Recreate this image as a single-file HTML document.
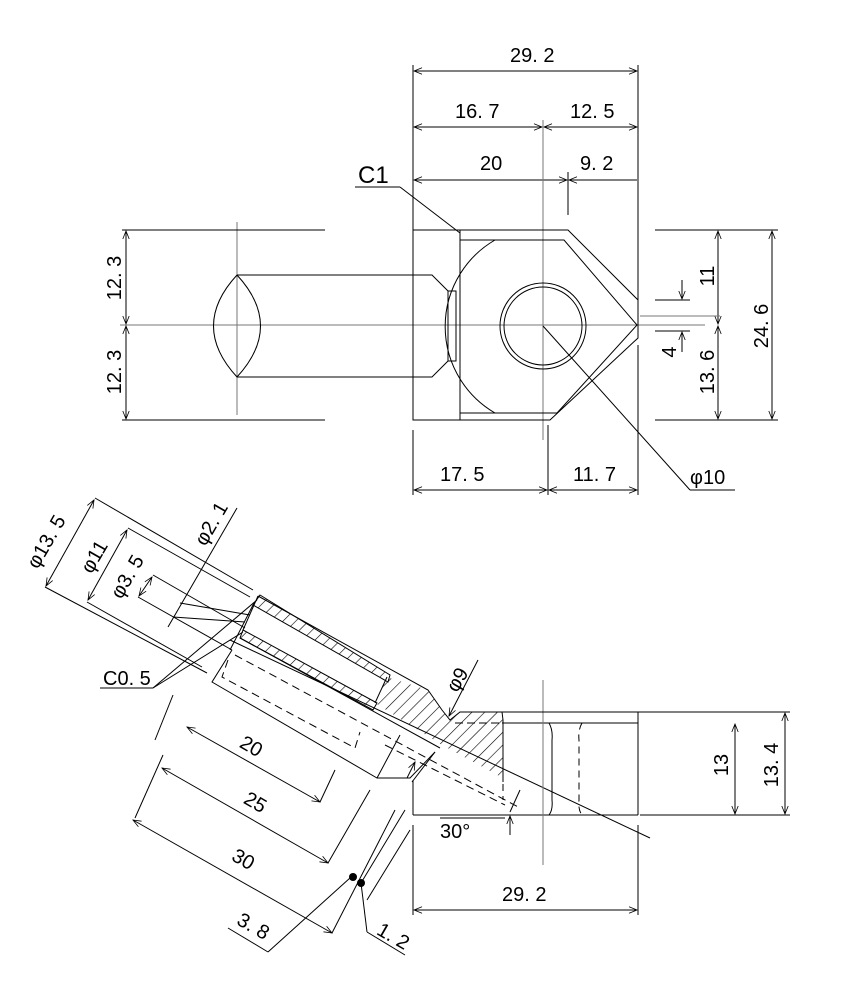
<!DOCTYPE html>
<html><head><meta charset="utf-8"><style>
html,body{margin:0;padding:0;background:#fff;}
svg{display:block;}
text{font-family:"Liberation Sans","Noto Sans CJK JP",sans-serif;font-size:20px;fill:#000;}
</style></head><body>
<svg width="865" height="1000" viewBox="0 0 865 1000" xmlns="http://www.w3.org/2000/svg">
<defs>
<marker id="a" viewBox="0 0 10 10" refX="10" refY="5" markerWidth="10" markerHeight="8" orient="auto-start-reverse" markerUnits="userSpaceOnUse"><path d="M0,1 L10,5 L0,9" fill="none" stroke="#000" stroke-width="1"/></marker>
<pattern id="h" width="9" height="9" patternUnits="userSpaceOnUse" patternTransform="rotate(45)"><line x1="0" y1="0" x2="0" y2="9" stroke="#000" stroke-width="1.2"/></pattern>
</defs>
<g stroke="#000" stroke-width="1" fill="none">
<line x1="413" y1="65" x2="413" y2="230"/>
<line x1="638" y1="65" x2="638" y2="300"/>
<line x1="568" y1="172" x2="568" y2="215"/>
<line x1="414" y1="71" x2="637" y2="71" marker-start="url(#a)" marker-end="url(#a)"/>
<line x1="414" y1="127" x2="542" y2="127" marker-start="url(#a)" marker-end="url(#a)"/>
<line x1="544" y1="127" x2="637" y2="127" marker-start="url(#a)" marker-end="url(#a)"/>
<line x1="414" y1="180" x2="567" y2="180" marker-start="url(#a)" marker-end="url(#a)"/>
<line x1="569" y1="180" x2="637" y2="180" marker-start="url(#a)"/>
<line x1="355" y1="187" x2="400" y2="187"/>
<line x1="400" y1="187" x2="460" y2="233"/>
<line x1="543" y1="120" x2="543" y2="440" stroke="#777"/>
<line x1="120" y1="325" x2="705" y2="325" stroke="#777"/>
<line x1="237" y1="222" x2="237" y2="415" stroke="#777"/>
<path d="M413,230 H568 L638,300 V338 L550,420 H413 Z"/>
<line x1="460" y1="230" x2="460" y2="420"/>
<path d="M460,240 H564 L637,325 L557,413 H460"/>
<path d="M495,240 A100,100 0 0 0 495,413"/>
<circle cx="543" cy="326" r="43"/>
<circle cx="543" cy="326" r="39"/>
<path d="M237,275 H432 L448,291 V361 L432,377 H237"/>
<rect x="448" y="291" width="8" height="70"/>
<path d="M237,275 Q190,326 237,377 Q284,326 237,275"/>
<line x1="122" y1="230" x2="325" y2="230"/>
<line x1="122" y1="420" x2="325" y2="420"/>
<line x1="126" y1="231" x2="126" y2="324" marker-start="url(#a)" marker-end="url(#a)"/>
<line x1="126" y1="326" x2="126" y2="419" marker-start="url(#a)" marker-end="url(#a)"/>
<line x1="655" y1="230" x2="778" y2="230"/>
<line x1="655" y1="420" x2="778" y2="420"/>
<line x1="718" y1="231" x2="718" y2="324" marker-start="url(#a)" marker-end="url(#a)"/>
<line x1="718" y1="326" x2="718" y2="419" marker-start="url(#a)" marker-end="url(#a)"/>
<line x1="772" y1="231" x2="772" y2="419" marker-start="url(#a)" marker-end="url(#a)"/>
<line x1="655" y1="300" x2="690" y2="300"/>
<line x1="640" y1="316" x2="720" y2="316" stroke="#777"/>
<line x1="655" y1="331" x2="690" y2="331"/>
<line x1="682" y1="280" x2="682" y2="299" marker-end="url(#a)"/>
<line x1="682" y1="352" x2="682" y2="332" marker-end="url(#a)"/>
<line x1="413" y1="430" x2="413" y2="495"/>
<line x1="548" y1="425" x2="548" y2="495"/>
<line x1="638" y1="345" x2="638" y2="495"/>
<line x1="414" y1="490" x2="547" y2="490" marker-start="url(#a)" marker-end="url(#a)"/>
<line x1="549" y1="490" x2="637" y2="490" marker-start="url(#a)" marker-end="url(#a)"/>
<line x1="543" y1="326" x2="690" y2="490"/>
<line x1="690" y1="490" x2="735" y2="490"/>

<!-- BOTTOM VIEW -->
<path d="M387,677 L428,690 L442,710 L450,720 L460,712 H502 L503,720 V778 L442,745 L375,703 Z" fill="url(#h)" stroke="none"/>
<path d="M258,596 L428,690 L442,710 L450,720 L460,712 H502 L503,720 V782"/>
<line x1="387" y1="677" x2="375" y2="703"/>
<path d="M260,595 L390,675 L388,682 L253,605 Z" fill="url(#h)"/>
<path d="M243,630 L377,703 L373,710 L240,638 Z" fill="url(#h)"/>
<line x1="258" y1="596" x2="243" y2="630"/>
<line x1="253" y1="605" x2="230" y2="650"/>
<path d="M232,650 L212,682 L377,778 H410 L435,752"/>
<line x1="240" y1="638" x2="440" y2="748"/>
<line x1="377" y1="778" x2="400" y2="735"/>
<line x1="412" y1="782" x2="435" y2="752"/>
<path d="M228,660 L222,677 L355,748 L360,732" stroke-dasharray="8,5"/>
<line x1="235" y1="655" x2="520" y2="808" stroke-dasharray="8,5"/>
<line x1="385" y1="745" x2="505" y2="805" stroke-dasharray="8,5"/>
<line x1="455" y1="723" x2="503" y2="723" stroke-dasharray="8,4"/>
<line x1="230" y1="640" x2="650" y2="838"/>
<line x1="502" y1="712" x2="638" y2="712"/>
<line x1="502" y1="723" x2="638" y2="723"/>
<line x1="638" y1="712" x2="638" y2="815"/>
<line x1="413" y1="815" x2="638" y2="815"/>
<line x1="413" y1="780" x2="413" y2="815"/>
<path d="M549,723 Q553,730 552,740 V800 Q553,810 549,815"/>
<path d="M582,723 Q578,730 579,740 V800 Q578,810 582,815" stroke-dasharray="7,5"/>
<line x1="503" y1="760" x2="503" y2="800" stroke-dasharray="7,5"/>
<line x1="543" y1="680" x2="543" y2="865" stroke="#777"/>
<line x1="520" y1="712" x2="790" y2="712"/>
<line x1="640" y1="815" x2="790" y2="815"/>
<line x1="735" y1="724" x2="735" y2="814" marker-start="url(#a)" marker-end="url(#a)"/>
<line x1="785" y1="713" x2="785" y2="814" marker-start="url(#a)" marker-end="url(#a)"/>
<line x1="413" y1="825" x2="413" y2="915"/>
<line x1="638" y1="825" x2="638" y2="915"/>
<line x1="414" y1="910" x2="637" y2="910" marker-start="url(#a)" marker-end="url(#a)"/>
<line x1="440" y1="818" x2="505" y2="818"/>
<line x1="510" y1="812" x2="520" y2="790"/>
<line x1="510" y1="835" x2="510" y2="816" marker-end="url(#a)"/>
<line x1="478" y1="660" x2="449" y2="716" marker-end="url(#a)"/>
<line x1="95" y1="498" x2="253" y2="590"/>
<line x1="45" y1="587" x2="207" y2="673"/>
<line x1="94" y1="500" x2="46" y2="586" marker-start="url(#a)" marker-end="url(#a)"/>
<line x1="128" y1="528" x2="250" y2="597"/>
<line x1="87" y1="602" x2="202" y2="667"/>
<line x1="127" y1="530" x2="88" y2="600" marker-start="url(#a)" marker-end="url(#a)"/>
<line x1="153" y1="575" x2="245" y2="628"/>
<line x1="138" y1="597" x2="232" y2="650"/>
<line x1="152" y1="577" x2="139" y2="596" marker-start="url(#a)" marker-end="url(#a)"/>
<line x1="237" y1="508" x2="168" y2="627"/>
<line x1="180" y1="603" x2="250" y2="615"/>
<line x1="173" y1="617" x2="245" y2="622"/>
<line x1="100" y1="688" x2="153" y2="688"/>
<line x1="153" y1="688" x2="257" y2="600"/>
<line x1="153" y1="688" x2="243" y2="632"/>
<line x1="187" y1="727" x2="320" y2="802" marker-start="url(#a)" marker-end="url(#a)"/>
<line x1="173" y1="695" x2="155" y2="740"/>
<line x1="335" y1="770" x2="320" y2="802"/>
<line x1="162" y1="768" x2="328" y2="863" marker-start="url(#a)" marker-end="url(#a)"/>
<line x1="163" y1="755" x2="135" y2="818"/>
<line x1="370" y1="790" x2="328" y2="863"/>
<line x1="133" y1="820" x2="332" y2="933" marker-start="url(#a)" marker-end="url(#a)"/>
<line x1="395" y1="810" x2="332" y2="933"/>
<line x1="405" y1="810" x2="361" y2="883"/>
<line x1="410" y1="830" x2="367" y2="900"/>
<line x1="228" y1="928" x2="268" y2="952"/>
<line x1="268" y1="952" x2="350" y2="878"/>
<line x1="361" y1="883" x2="367" y2="932"/>
<line x1="367" y1="932" x2="405" y2="955"/>
<line x1="407" y1="778" x2="415" y2="762" marker-end="url(#a)"/>
</g>
<circle cx="353" cy="877" r="4"/>
<circle cx="361" cy="883" r="4"/>

<text x="510" y="62">29. 2</text>
<text x="455" y="118">16. 7</text>
<text x="570" y="118">12. 5</text>
<text x="480" y="170">20</text>
<text x="580" y="170">9. 2</text>
<text x="358" y="183" style="font-size:24px">C1</text>
<text x="440" y="481">17. 5</text>
<text x="573" y="481">11. 7</text>
<text x="690" y="484">φ10</text>
<text transform="translate(121,278) rotate(-90)" text-anchor="middle">12. 3</text>
<text transform="translate(121,372) rotate(-90)" text-anchor="middle">12. 3</text>
<text transform="translate(714,276) rotate(-90)" text-anchor="middle">11</text>
<text transform="translate(714,372) rotate(-90)" text-anchor="middle">13. 6</text>
<text transform="translate(768,326) rotate(-90)" text-anchor="middle">24. 6</text>
<text transform="translate(676,352) rotate(-90)" text-anchor="middle">4</text>
<text transform="translate(52,545) rotate(-60)" text-anchor="middle">φ13. 5</text>
<text transform="translate(100,560) rotate(-60)" text-anchor="middle">φ11</text>
<text transform="translate(133,580) rotate(-60)" text-anchor="middle">φ3. 5</text>
<text transform="translate(217,527) rotate(-60)" text-anchor="middle">φ2. 1</text>
<text transform="translate(463,683) rotate(-60)" text-anchor="middle">φ9</text>
<text x="103" y="685">C0. 5</text>
<text transform="translate(248,752) rotate(30)" text-anchor="middle">20</text>
<text transform="translate(252,808) rotate(30)" text-anchor="middle">25</text>
<text transform="translate(240,865) rotate(30)" text-anchor="middle">30</text>
<text transform="translate(250,932) rotate(30)" text-anchor="middle">3. 8</text>
<text transform="translate(390,942) rotate(30)" text-anchor="middle">1. 2</text>
<text x="440" y="838">30°</text>
<text x="502" y="901">29. 2</text>
<text transform="translate(728,765) rotate(-90)" text-anchor="middle">13</text>
<text transform="translate(778,765) rotate(-90)" text-anchor="middle">13. 4</text>
</svg>
</body></html>
